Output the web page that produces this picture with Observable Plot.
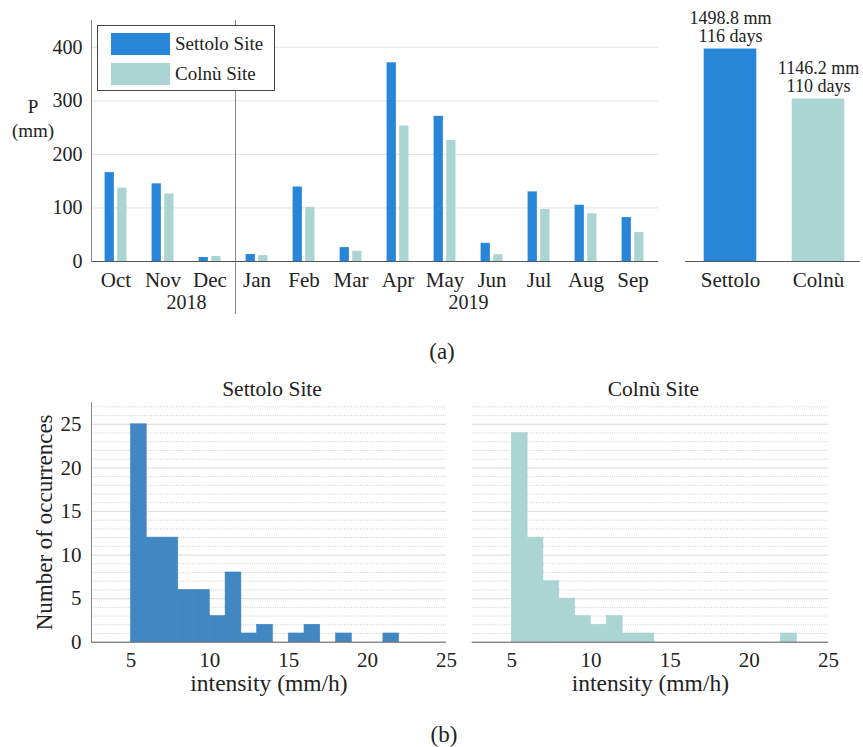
<!DOCTYPE html>
<html><head><meta charset="utf-8">
<script src="https://cdn.jsdelivr.net/npm/d3@7"></script>
<script src="https://cdn.jsdelivr.net/npm/@observablehq/plot@0.6"></script>
<style>
body{margin:0;background:#fff;}
#wrap{position:relative;width:863px;height:747px;font-family:"Liberation Serif",serif;color:#222;background:#fff;overflow:hidden;}
#wrap svg{position:absolute;left:0;top:0;}
.lbl{position:absolute;font-size:19px;transform:translate(-50%,-50%);white-space:nowrap;line-height:1;}
#legend{position:absolute;left:97px;top:25px;width:176px;height:64px;border:1.2px solid #444;background:#fff;}
.sw{position:absolute;left:13px;width:59px;height:22px;}
.lt{position:absolute;left:77px;font-size:19px;line-height:22px;white-space:nowrap;}
</style></head><body><div id="wrap"></div>
<script>
// ---- data ----
const months = ["Oct","Nov","Dec","Jan","Feb","Mar","Apr","May","Jun","Jul","Aug","Sep"];
const settoloMonthly = [166,145,7.5,13,139,26,371,271,34,130,105,82];
const colnuMonthly   = [137,126,9.5,11,101,19,253,226,12.5,97,89,54];
const years = ["2018","2019"];
const yearAnchorMonths = ["Nov","May"];
const sites = ["Settolo","Colnù"];
const siteTitles = ["Settolo Site","Colnù Site"];
const totalRain = [1498.8,1146.2];
const rainyDays = [116,110];
const binStart = [5,6,7,8,9,10,11,12,13,14,15,16,17,18,19,20,21,22,23,24];
const settoloCounts = [25,12,12,6,6,3,8,1,2,0,1,2,0,1,0,0,1,0,0,0];
const colnuCounts   = [24,12,7,5,3,2,3,1,1,0,0,0,0,0,0,0,0,1,0,0];
const monthlyTicks = [0,100,200,300,400];
const histYTicks = [0,5,10,15,20,25];
const histXTicks = [5,10,15,20,25];

const BLUE = "#2886d8", TEAL = "#aad5d2", HBLUE = "#4187c2";
const W = 863, H = 747;
const FONT = "Liberation Serif";
const baseStyle = {background:"transparent", fontFamily:FONT, fontSize:"19px", color:"#222", overflow:"visible"};
const wrap = document.getElementById("wrap");

const monthly = months.map((m,i)=>({month:m, settolo:settoloMonthly[i], colnu:colnuMonthly[i]}));

// ---- (a) monthly ----
const step = 47.73;
const p1 = Plot.plot({
  width: W, height: H,
  marginLeft: 91, marginRight: W-658, marginTop: 20, marginBottom: H-261,
  style: baseStyle,
  x: {type:"band", domain: months, range:[88.1, 88.1+12*step], padding:0},
  y: {domain:[0,450]},
  marks: [
    Plot.gridY(monthlyTicks.filter(d=>d>0), {stroke:"#e2e2e2", strokeOpacity:1}),
    Plot.ruleX(["Jan"], {stroke:"#888", strokeWidth:1, dx:-21.5, insetBottom:-53}),
    Plot.barY(monthly, {x:"month", y:"settolo", fill:BLUE, insetLeft:12.6, insetRight:step-22.6}),
    Plot.barY(monthly, {x:"month", y:"colnu", fill:TEAL, insetLeft:25.2, insetRight:step-35.2}),
    Plot.ruleY([0], {stroke:"#555"}),
    Plot.frame({anchor:"left", stroke:"#888"}),
    Plot.axisY({ticks:monthlyTicks, tickSize:0, tickPadding:9, fontSize:20, label:null}),
    Plot.axisX({tickSize:0, tickPadding:11, fontSize:21, label:null}),
    Plot.text(years, {x:(d,i)=>yearAnchorMonths[i], text:d=>d, frameAnchor:"bottom", lineAnchor:"bottom", dy:47, dx:23.4, fontSize:20})
  ]
});
wrap.appendChild(p1);

// legend
const leg = document.createElement("div");
leg.id = "legend";
leg.innerHTML = `<div class="sw" style="top:7px;background:${BLUE}"></div><div class="lt" style="top:7px">${siteTitles[0]}</div>
<div class="sw" style="top:37px;background:${TEAL}"></div><div class="lt" style="top:37px">${siteTitles[1]}</div>`;
wrap.appendChild(leg);

// y label P (mm)
for (const [t,x,y] of [["P",33,106],["(mm)",33,130]]) {
  const d = document.createElement("div"); d.className="lbl"; d.textContent=t;
  d.style.left=x+"px"; d.style.top=y+"px"; wrap.appendChild(d);
}

// ---- (a) totals ----
const totals = sites.map((s,i)=>({site:s, total:totalRain[i], days:rainyDays[i]}));
const tstep = 88.4;
const p2 = Plot.plot({
  width: W, height: H,
  marginLeft: 685, marginRight: 3, marginTop: 20, marginBottom: H-261,
  style: baseStyle,
  x: {type:"band", domain: sites, range:[685.4, 685.4+2*tstep], padding:0},
  y: {domain:[0,1700], axis:null},
  marks: [
    Plot.barY(totals, {x:"site", y:"total", fill:(d,i)=>[BLUE,TEAL][i], insetLeft:17.7, insetRight:17.7}),
    Plot.ruleY([0], {stroke:"#555"}),
    Plot.text(totals, {x:"site", y:"total", text:d=>`${d.total.toFixed(1)} mm\n${d.days} days`, lineAnchor:"bottom", lineHeight:1, dy:-7, fontSize:18}),
    Plot.axisX({tickSize:0, tickPadding:11, fontSize:21, label:null})
  ]
});
wrap.appendChild(p2);

// ---- (b) histograms ----
function hist(counts, color, left, right, title, showY) {
  const data = binStart.map((b,i)=>({x1:b, x2:b+1, n:counts[i]})).filter(d=>d.n>0);
  const minor = d3.range(1,28).filter(v=>v%5!==0);
  const marks = [
    Plot.gridY(minor, {stroke:"#b8b8b8", strokeOpacity:1, strokeWidth:0.7, strokeDasharray:"1,1.3"}),
    Plot.gridY(histYTicks.filter(d=>d>0), {stroke:"#e0e0e0", strokeOpacity:1, strokeWidth:1.2}),
    Plot.rectY(data, {x1:"x1", x2:"x2", y:"n", fill:color, stroke:color, strokeWidth:0.6}),
    Plot.ruleY([0], {stroke:"#555"}),
    Plot.axisX({ticks:histXTicks, tickSize:0, tickPadding:10, fontSize:21, label:null}),
    Plot.text([title], {frameAnchor:"top", lineAnchor:"bottom", dy:-7, dx:3, fontSize:21.5}),
    Plot.text(["intensity (mm/h)"], {frameAnchor:"bottom", lineAnchor:"bottom", dy:49, fontSize:23.5})
  ];
  if (showY) {
    marks.push(Plot.frame({anchor:"left", stroke:"#888"}));
    marks.push(Plot.axisY({ticks:histYTicks, tickSize:0, tickPadding:10, fontSize:21, label:null}));
    marks.push(Plot.text(["Number of occurrences"], {frameAnchor:"left", textAnchor:"middle", lineAnchor:"middle", dx:-47, rotate:-90, fontSize:23}));
  }
  return Plot.plot({
    width: W, height: H,
    marginLeft: left, marginRight: W-right, marginTop: 402, marginBottom: H-641.7,
    style: baseStyle,
    x: {domain:[2.5,25]},
    y: {domain:[0,27.5], axis: showY ? undefined : null},
    marks
  });
}
wrap.appendChild(hist(settoloCounts, HBLUE, 91, 446, siteTitles[0], true));
wrap.appendChild(hist(colnuCounts, TEAL, 471.7, 828, siteTitles[1], false));

for (const [t,x,y] of [["(a)",442,351],["(b)",444,734]]) {
  const d = document.createElement("div"); d.className="lbl"; d.textContent=t;
  d.style.left=x+"px"; d.style.top=y+"px"; d.style.fontSize="23px"; wrap.appendChild(d);
}
</script></body></html>
